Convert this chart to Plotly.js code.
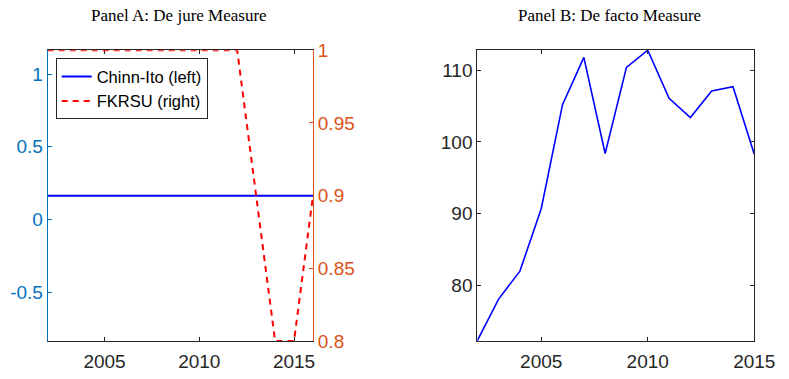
<!DOCTYPE html>
<html>
<head>
<meta charset="utf-8">
<script src="https://cdn.plot.ly/plotly-3.0.1.min.js"></script>
<style>html,body{margin:0;padding:0;background:#fff;}#chart{width:789px;height:379px;}</style>
</head>
<body>
<div id="chart"></div>
<script>
// Panel A: de jure measures
const yearsA = [2002, 2003, 2004, 2005, 2006, 2007, 2008, 2009, 2010, 2011, 2012, 2013, 2014, 2015, 2016];
const chinnIto = [0.164, 0.164, 0.164, 0.164, 0.164, 0.164, 0.164, 0.164, 0.164, 0.164, 0.164, 0.164, 0.164, 0.164, 0.164];
const fkrsu = [1, 1, 1, 1, 1, 1, 1, 1, 1, 1, 1, 0.9, 0.8, 0.8, 0.9];

// Panel B: de facto measure
const yearsB = [2002, 2003, 2004, 2005, 2006, 2007, 2008, 2009, 2010, 2011, 2012, 2013, 2014, 2015];
const deFacto = [72.3, 78.1, 82.0, 90.7, 105.2, 111.8, 98.4, 110.4, 112.8, 106.1, 103.4, 107.1, 107.7, 98.3];

const xTicks = [2005, 2010, 2015];
const leftTicks = [1, 0.5, 0, -0.5];
const rightTicks = [0.8, 0.85, 0.9, 0.95, 1];
const bTicks = [80, 90, 100, 110];

const W = 789, H = 379;
const tickFont = {family: 'Liberation Sans, Arial, sans-serif', size: 19, color: '#262626'};

const traces = [
  {x: yearsA, y: chinnIto, type: 'scatter', mode: 'lines', name: 'Chinn-Ito (left)',
   line: {color: '#0000FF', width: 2}, xaxis: 'x', yaxis: 'y'},
  {x: yearsA, y: fkrsu, type: 'scatter', mode: 'lines', name: 'FKRSU (right)',
   line: {color: '#FF0000', width: 2, dash: '6px,5px'}, xaxis: 'x', yaxis: 'y2'},
  {x: yearsB, y: deFacto, type: 'scatter', mode: 'lines', name: 'De facto',
   line: {color: '#0000FF', width: 1.6}, xaxis: 'x2', yaxis: 'y3', showlegend: false}
];

const yDom = [(H - 341) / H, (H - 50.3) / H];

const layout = {
  width: W, height: H,
  margin: {l: 0, r: 0, t: 0, b: 0},
  paper_bgcolor: '#fff', plot_bgcolor: '#fff',
  showlegend: true,
  legend: {x: 55.7 / W, y: (H - 58.3) / H, xanchor: 'left', yanchor: 'top',
           bgcolor: '#fff', bordercolor: '#262626', borderwidth: 1,
           font: {family: 'Liberation Sans, Arial, sans-serif', size: 16.5, color: '#000'},
           tracegroupgap: 0},
  xaxis: {domain: [47.7 / W, 313 / W], range: [2002, 2016], anchor: 'y',
          tickvals: xTicks, ticks: 'inside', ticklen: 4, tickcolor: '#262626',
          showline: true, linecolor: '#262626', linewidth: 1, mirror: 'ticks',
          showgrid: false, zeroline: false, tickfont: tickFont, layer: 'below traces',
          ticklabelstandoff: 3},
  yaxis: {domain: yDom, range: [-0.836, 1.164], anchor: 'x',
          tickvals: leftTicks, ticktext: ['1', '0.5', '0', '-0.5'], ticks: 'inside', ticklen: 4,
          tickcolor: '#0072BD', showline: true, linecolor: '#0072BD', linewidth: 1,
          showgrid: false, zeroline: false,
          tickfont: {family: tickFont.family, size: 19, color: '#0072BD'}, layer: 'below traces'},
  yaxis2: {overlaying: 'y', side: 'right', anchor: 'x', range: [0.8, 1],
           tickvals: rightTicks, ticktext: ['0.8', '0.85', '0.9', '0.95', '1'], ticks: 'inside', ticklen: 4,
           tickcolor: '#D95319', showline: true, linecolor: '#D95319', linewidth: 1,
           showgrid: false, zeroline: false,
           tickfont: {family: tickFont.family, size: 19, color: '#D95319'}, layer: 'below traces'},
  xaxis2: {domain: [477.3 / W, 754.3 / W], range: [2002, 2015], anchor: 'y3',
           tickvals: xTicks, ticks: 'inside', ticklen: 4, tickcolor: '#262626',
           showline: true, linecolor: '#262626', linewidth: 1, mirror: 'ticks',
           showgrid: false, zeroline: false, tickfont: tickFont, ticklabelstandoff: 3},
  yaxis3: {domain: yDom, range: [72.26, 112.78], anchor: 'x2',
           tickvals: bTicks, ticks: 'inside', ticklen: 4, tickcolor: '#262626',
           showline: true, linecolor: '#262626', linewidth: 1, mirror: 'ticks',
           showgrid: false, zeroline: false, tickfont: tickFont},
  annotations: [
    {text: 'Panel A: De jure Measure', xref: 'paper', yref: 'paper', x: 179 / W, y: (H - 15) / H,
     xanchor: 'center', yanchor: 'middle', showarrow: false,
     font: {family: 'Liberation Serif, Times New Roman, serif', size: 17, color: '#000'}},
    {text: 'Panel B: De facto Measure', xref: 'paper', yref: 'paper', x: 609 / W, y: (H - 15) / H,
     xanchor: 'center', yanchor: 'middle', showarrow: false,
     font: {family: 'Liberation Serif, Times New Roman, serif', size: 17, color: '#000'}}
  ]
};

Plotly.newPlot('chart', traces, layout, {displayModeBar: false, staticPlot: true});
</script>
</body>
</html>
